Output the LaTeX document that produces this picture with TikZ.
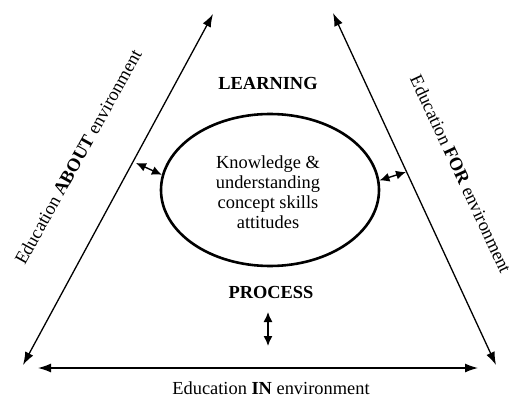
\documentclass[tikz,border=0pt]{standalone}
\usepackage{fontspec}
\setmainfont{Liberation Serif}
\usetikzlibrary{arrows.meta,shapes.geometric}

\begin{document}
\begin{tikzpicture}[x=1pt,y=-1pt,
  every node/.style={font=\fontsize{18.4}{20}\selectfont},
  side/.style={{Latex[length=13pt,width=9pt]}-{Latex[length=13pt,width=9pt]},line width=1.3pt},
  link/.style={{Latex[length=10pt,width=9pt]}-{Latex[length=10pt,width=9pt]},line width=1.4pt}]
\useasboundingbox (0,0) rectangle (513,403);

\coordinate (about top) at (213,14);
\coordinate (about bottom) at (23,365);
\coordinate (for top) at (333,13);
\coordinate (for bottom) at (496,365);
\coordinate (in left) at (38,368);
\coordinate (in right) at (478,368);
\coordinate (about link) at (136,163);
\coordinate (for link) at (406,172);
\coordinate (process top) at (268,312);
\coordinate (process bottom) at (268,346);

\node[ellipse,draw,line width=2.6pt,minimum width=218pt,minimum height=152pt,inner sep=0pt,align=center] (knowledge) at (270,190) {};
\node[align=center] (knowledge text) at (268,192) {Knowledge \&\\understanding\\concept skills\\attitudes};
\node (learning) at (268,84) {\textbf{LEARNING}};
\node (process) at (271,292) {\textbf{PROCESS}};
\node (in) at (271,388) {Education \textbf{IN} environment};
\node[rotate=61] (about) at (78,157) {Education \textbf{ABOUT} environment};
\node[rotate=-65] (for) at (461,174) {Education \textbf{FOR} environment};

\draw[side] (about bottom) -- (about top);
\draw[side] (for top) -- (for bottom);
\draw[side] (in left) -- (in right);
\draw[link] (about link) -- (knowledge.172);
\draw[link] (knowledge.5) -- (for link);
\draw[link] (process top) -- (process bottom);
\end{tikzpicture}
\end{document}
